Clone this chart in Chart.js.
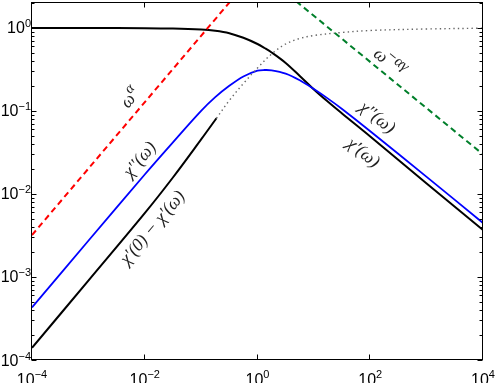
<!DOCTYPE html>
<html>
<head>
<meta charset="utf-8">
<script src="https://cdn.jsdelivr.net/npm/chart.js@4.4.1/dist/chart.umd.min.js"></script>
<style>
html,body{margin:0;padding:0;background:#fff;}
#wrap{width:498px;height:383px;}
</style>
</head>
<body>
<div id="wrap"><canvas id="c" width="498" height="383"></canvas></div>
<script>
// ---- data ----
const xMain = [1e-4, 1e-3, 1e-2, 0.0316, 0.1, 0.178, 0.316, 0.562, 1, 1.33, 1.78, 3.16, 5.62, 10, 17.8, 31.6, 100, 1000, 1e4];
const chiImag = [4.29e-4, 2.731e-3, 0.01718, 0.04188, 0.1002, 0.1466, 0.2009, 0.2606, 0.3059, 0.3116, 0.3090, 0.2818, 0.2344, 0.1841, 0.1409, 0.1057, 0.05706, 0.01609, 0.004477];
const chiReal = [0.99986, 0.9991, 0.9941, 0.984, 0.9566, 0.9253, 0.8655, 0.7618, 0.6415, 0.574, 0.5068, 0.3788, 0.2640, 0.1816, 0.1290, 0.0933, 0.0493, 0.01338, 0.00368];
const xLow = [1e-4, 1e-3, 1e-2, 0.0316, 0.1, 0.187];
const chiDiff = [1.40e-4, 9.04e-4, 5.875e-3, 0.0158, 0.0454, 0.0817];
const xDot = [0.187, 0.316, 0.562, 1, 1.78, 3.16, 5.62, 10, 31.6, 100, 1000, 1e4];
const chiDiffDot = [0.0817, 0.134, 0.2145, 0.3297, 0.486, 0.6415, 0.747, 0.812, 0.8827, 0.933, 0.9726, 0.9945];
const xRed = [1e-4, 1];
const yRed = [3.2e-3, 5.08];
const xGreen = [1, 1e4];
const yGreen = [5.05, 0.030];
const xTickVals = [1e-4, 1e-2, 1, 1e2, 1e4];
const xTickExps = ['\u22124', '\u22122', '0', '2', '4'];
const yTickVals = [1e-4, 1e-3, 1e-2, 1e-1, 1];
const yTickExps = ['\u22124', '\u22123', '\u22122', '\u22121', '0'];

function pts(xs, ys) { return xs.map((x, i) => ({x: x, y: ys[i]})); }

function drawRich(ctx, segs, cx, cy, angDeg, size) {
  ctx.save();
  ctx.translate(cx, cy);
  ctx.rotate(angDeg * Math.PI / 180);
  let total = 0;
  const fs = s => (s.sup ? size * (s.scale || 0.7) : size);
  const ws = segs.map(s => {
    ctx.font = 'italic ' + fs(s) + 'px "Liberation Serif"';
    const w = ctx.measureText(s.t).width + (s.kern || 0); total += w; return w;
  });
  let x = -total / 2;
  ctx.textBaseline = 'middle';
  ctx.textAlign = 'left';
  segs.forEach((s, i) => {
    ctx.font = 'italic ' + fs(s) + 'px "Liberation Serif"';
    ctx.fillText(s.t, x + (s.kern || 0), s.sup ? -size * 0.38 : 0);
    x += ws[i];
  });
  ctx.restore();
}

const axesPlugin = {
  id: 'axesPlugin',
  afterDatasetsDraw(chart) {
    const ctx = chart.ctx, a = chart.chartArea;
    const xs = chart.scales.x, ys = chart.scales.y;
    ctx.save();
    ctx.strokeStyle = '#000';
    ctx.lineWidth = 1;
    const L = a.left - 0.5, R = a.right - 0.5, T = a.top - 0.5, B = a.bottom - 0.5;
    ctx.strokeRect(L, T, R - L, B - T);
    ctx.beginPath();
    for (let e = -4; e <= 0; e++) {
      for (let m = 1; m <= 9; m++) {
        const v = m * Math.pow(10, e);
        if (v > ys.max) break;
        const py = Math.round(ys.getPixelForValue(v)) + 0.5;
        const len = m === 1 ? 5 : 3;
        ctx.moveTo(L, py); ctx.lineTo(L + len, py);
        ctx.moveTo(R, py); ctx.lineTo(R - len, py);
      }
    }
    xTickVals.forEach(v => {
      const px = Math.round(xs.getPixelForValue(v)) - 0.5;
      ctx.moveTo(px, B); ctx.lineTo(px, B - 5);
      ctx.moveTo(px, T); ctx.lineTo(px, T + 5);
    });
    ctx.stroke();

    ctx.fillStyle = '#000';
    ctx.textBaseline = 'alphabetic';
    const baseFont = '16px "Liberation Sans"', expFont = '11px "Liberation Sans"';
    yTickVals.forEach((v, i) => {
      const py = ys.getPixelForValue(v);
      ctx.font = expFont;
      const we = ctx.measureText(yTickExps[i]).width;
      ctx.textAlign = 'right';
      ctx.fillText(yTickExps[i], 31, py - 0.5);
      ctx.font = baseFont;
      ctx.fillText('10', 31 - we, py + 5.5);
    });
    xTickVals.forEach((v, i) => {
      const px = xs.getPixelForValue(v);
      ctx.font = baseFont;
      const wb = ctx.measureText('10').width;
      ctx.font = expFont;
      const we = ctx.measureText(xTickExps[i]).width;
      const x0 = px - (wb + we) / 2;
      ctx.textAlign = 'left';
      ctx.font = baseFont;
      ctx.fillText('10', x0, 384.5);
      ctx.font = expFont;
      ctx.fillText(xTickExps[i], x0 + wb, 377.5);
    });

    ctx.fillStyle = '#222';
    const P = (x, y) => [xs.getPixelForValue(x), ys.getPixelForValue(y)];
    let p;
    p = P(5.7e-3, 0.143);
    drawRich(ctx, [{t: '\u03c9'}, {t: '\u03b1', sup: true, scale: 0.8}], p[0], p[1], -50, 18);
    p = P(8.3e-3, 0.0257);
    drawRich(ctx, [{t: '\u03c7\u2032\u2032(\u03c9)'}], p[0], p[1], -50, 18);
    p = P(0.014, 0.00389);
    drawRich(ctx, [{t: '\u03c7\u2032(0) \u2212 \u03c7\u2032(\u03c9)'}], p[0], p[1], -50, 18);
    p = P(131, 0.0824);
    drawRich(ctx, [{t: '\u03c7\u2032\u2032(\u03c9)'}], p[0], p[1], 39, 18);
    p = P(74, 0.0312);
    drawRich(ctx, [{t: '\u03c7\u2032(\u03c9)'}], p[0], p[1], 39, 18);
    p = P(215, 0.379);
    drawRich(ctx, [{t: '\u03c9'}, {t: '\u2212\u03b1\u03b3', sup: true, scale: 0.85, kern: -2}], p[0], p[1], 39, 18);
    ctx.restore();
  }
};

const common = {showLine: true, pointRadius: 0, fill: false, tension: 0.35, clip: 0};
new Chart(document.getElementById('c'), {
  type: 'scatter',
  data: {
    datasets: [
      Object.assign({}, common, {label: 'omega^alpha', data: pts(xRed, yRed), borderColor: '#ff0000', borderWidth: 2, borderDash: [6, 4], tension: 0}),
      Object.assign({}, common, {label: 'omega^-alpha gamma', data: pts(xGreen, yGreen), borderColor: '#007f2a', borderWidth: 2, borderDash: [6, 4], tension: 0}),
      Object.assign({}, common, {label: 'dotted', data: pts(xDot, chiDiffDot), borderColor: '#666', borderWidth: 1.4, borderDash: [1.4, 3.2]}),
      Object.assign({}, common, {label: "chi'(0)-chi'", data: pts(xLow, chiDiff), borderColor: '#000', borderWidth: 2}),
      Object.assign({}, common, {label: "chi''", data: pts(xMain, chiImag), borderColor: '#0000ff', borderWidth: 1.8}),
      Object.assign({}, common, {label: "chi'", data: pts(xMain, chiReal), borderColor: '#000', borderWidth: 2})
    ]
  },
  options: {
    responsive: false,
    animation: false,
    devicePixelRatio: 1,
    layout: {padding: {left: 32, right: 15, top: 3, bottom: 23}},
    plugins: {legend: {display: false}, tooltip: {enabled: false}},
    scales: {
      x: {type: 'logarithmic', min: 1e-4, max: 1e4, display: false},
      y: {type: 'logarithmic', min: 1e-4, max: 2, display: false}
    }
  },
  plugins: [axesPlugin]
});
</script>
</body>
</html>
